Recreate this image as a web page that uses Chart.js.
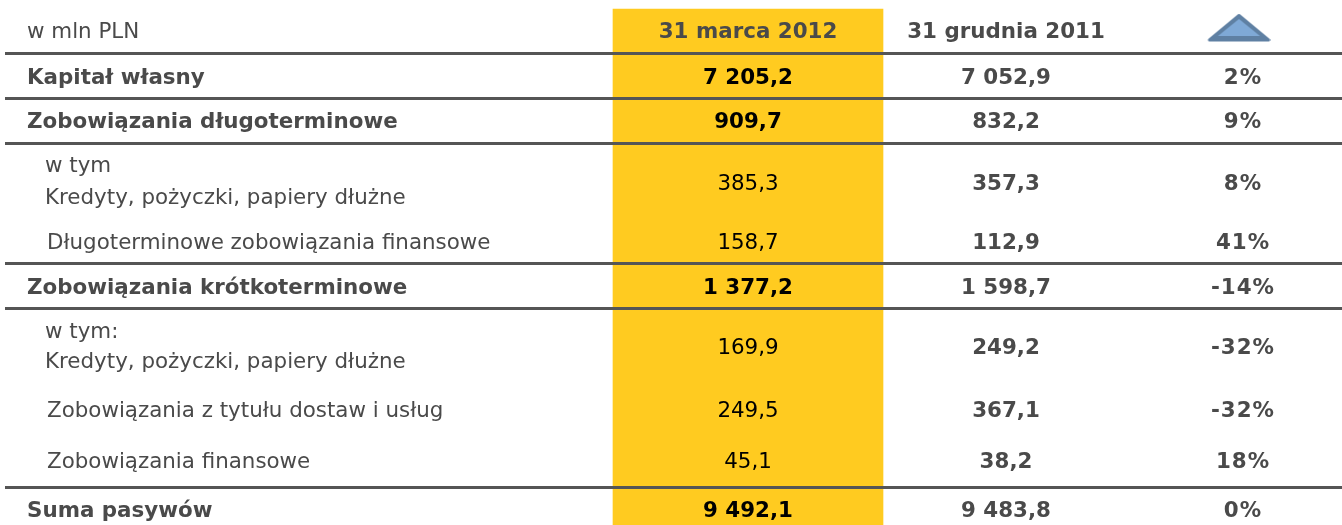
<!DOCTYPE html>
<html>
<head>
<meta charset="utf-8">
<script src="https://cdn.jsdelivr.net/npm/chart.js@4"></script>
<style>
  html, body { margin: 0; padding: 0; background: #fff; overflow: hidden; }
  #wrap { width: 1342px; height: 525px; }
</style>
</head>
<body>
<div id="wrap"><canvas id="tabela" width="1342" height="525"></canvas></div>
<script>
// dane z tabeli (w mln PLN)
const unitLabel = 'w mln PLN'
const headers = ['31 marca 2012', '31 grudnia 2011']
const rowLabels = [
  'Kapitał własny',
  'Zobowiązania długoterminowe',
  'w tym',
  'Kredyty, pożyczki, papiery dłużne',
  'Długoterminowe zobowiązania finansowe',
  'Zobowiązania krótkoterminowe',
  'w tym:',
  'Kredyty, pożyczki, papiery dłużne',
  'Zobowiązania z tytułu dostaw i usług',
  'Zobowiązania finansowe',
  'Suma pasywów'
]
const values2012 = [7205.2, 909.7, 385.3, 158.7, 1377.2, 169.9, 249.5, 45.1, 9492.1]
const values2011 = [7052.9, 832.2, 357.3, 112.9, 1598.7, 249.2, 367.1, 38.2, 9483.8]
const changes = [2, 9, 8, 41, -14, -32, -32, 18, 0]

// uklad tabeli, osobno od danych
const labelX = [27, 27, 45, 45, 47, 27, 45, 45, 47, 47, 27]
const labelY = [78, 122, 166, 198, 243, 288, 332, 362, 411, 462, 511]
const labelBold = [true, true, false, false, false, true, false, false, false, false, true]
const valueY = [78, 122, 184, 243, 288, 348, 411, 462, 511]
const valueBold = [true, true, false, false, true, false, false, false, true]
const rules = [53, 98, 143, 263, 308, 487]
const colX = { d2012: 748, d2011: 1006, change: 1243 }

const fmt = (v) => {
  const parts = v.toFixed(1).split('.')
  return parts[0].replace(/\B(?=(\d{3})+$)/g, ' ') + ',' + parts[1]
}

const FONT = '"DejaVu Sans", Verdana, sans-serif'
const TEXT = '#4a4a4a'

// ikona trojkata w naglowku
const makeTriangle = () => {
  const c = document.createElement('canvas')
  c.width = 64
  c.height = 32
  const g = c.getContext('2d')
  g.beginPath()
  g.moveTo(3, 28)
  g.lineTo(32.5, 3.5)
  g.lineTo(62, 28)
  g.closePath()
  g.lineJoin = 'round'
  g.lineWidth = 3
  g.fillStyle = '#5f80a3'
  g.strokeStyle = '#5f80a3'
  g.fill()
  g.stroke()
  g.beginPath()
  g.moveTo(11.5, 24)
  g.lineTo(32.5, 7)
  g.lineTo(53.5, 24)
  g.closePath()
  g.fillStyle = '#7fa9d6'
  g.fill()
  return c
}

// rysuje teksty w punktach datasetow
const textPlugin = {
  id: 'textPlugin',
  afterDatasetsDraw(chart) {
    const ctx = chart.ctx
    chart.data.datasets.forEach((ds, i) => {
      if (!ds.texts) return
      chart.getDatasetMeta(i).data.forEach((pt, j) => {
        const bold = ds.bold ? ds.bold[j] : false
        ctx.save()
        ctx.font = `${bold ? 'bold ' : ''}${ds.size}px ${FONT}`
        ctx.letterSpacing = ds.spacing || '0px'
        ctx.fillStyle = ds.color
        ctx.textAlign = ds.align
        ctx.textBaseline = 'middle'
        ctx.fillText(ds.texts[j], pt.x, pt.y)
        ctx.restore()
      })
    })
  }
}

const textSet = (texts, xs, ys, opts) => ({
  type: 'scatter',
  data: texts.map((t, i) => ({ x: Array.isArray(xs) ? xs[i] : xs, y: ys[i] })),
  texts,
  pointRadius: 0,
  size: 21.4,
  color: TEXT,
  align: 'center',
  ...opts
})

new Chart(document.getElementById('tabela').getContext('2d'), {
  type: 'scatter',
  data: {
    datasets: [
      {
        type: 'bar',
        data: [{ x: colX.d2012, y: [9, 525] }],
        backgroundColor: '#ffcb20',
        barThickness: 270,
        order: 5
      },
      textSet([unitLabel], 27, [32], { align: 'left' }),
      textSet([headers[0]], colX.d2012, [32], { bold: [true] }),
      textSet([headers[1]], colX.d2011, [32], { bold: [true] }),
      textSet(rowLabels, labelX, labelY, { align: 'left', bold: labelBold }),
      textSet(values2012.map(fmt), colX.d2012, valueY, { bold: valueBold, color: '#000' }),
      textSet(values2011.map(fmt), colX.d2011, valueY, { bold: values2011.map(() => true) }),
      textSet(changes.map((v) => v + '%'), colX.change, valueY, { bold: changes.map(() => true), spacing: '1px' }),
      {
        type: 'scatter',
        data: [{ x: 1238.5, y: 28 }],
        pointStyle: makeTriangle(),
        pointRadius: 20
      }
    ]
  },
  options: {
    responsive: false,
    animation: false,
    layout: { autoPadding: false, padding: { left: 5, right: 0, top: 0, bottom: 0 } },
    plugins: { legend: { display: false }, tooltip: { enabled: false } },
    scales: {
      x: { type: 'linear', min: 5, max: 1342, display: false, offset: false, grid: { display: false } },
      y: {
        type: 'linear',
        min: 0,
        max: 525,
        reverse: true,
        border: { display: false },
        afterBuildTicks: (axis) => { axis.ticks = rules.map((v) => ({ value: v })) },
        ticks: { display: false },
        grid: { color: '#555555', lineWidth: 3, drawTicks: false, z: 1 }
      }
    }
  },
  plugins: [textPlugin]
})
</script>
</body>
</html>
